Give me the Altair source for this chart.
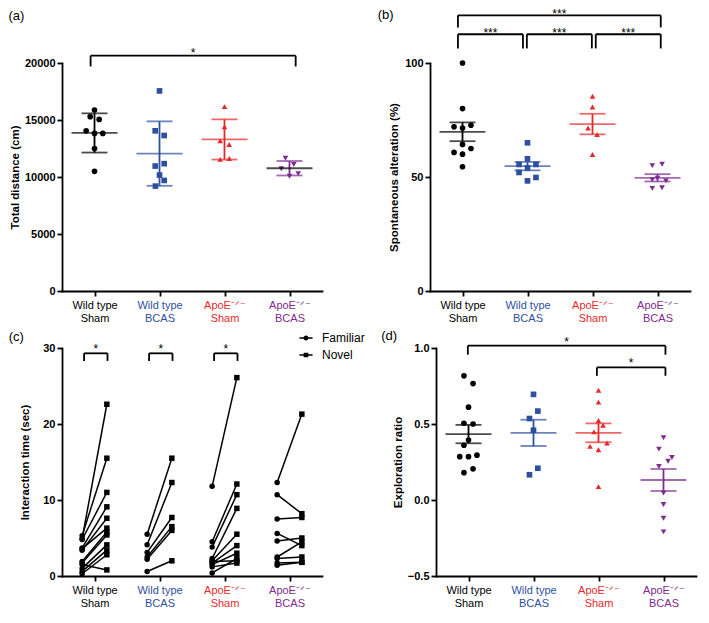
import json
import altair as alt
import pandas as pd

FONT = "Liberation Sans"

# ---------------- categories ----------------
cat_top = ["Wild type", "Wild type", "ApoE\u207b\u141f\u207b", "ApoE\u207b\u141f\u207b"]
cat_bottom = ["Sham", "BCAS", "Sham", "BCAS"]
cat_colors = ["#000000", "#2e4f9e", "#e62a2c", "#7d2b8e"]
cat_shapes = ["circle", "square", "triangle-up", "triangle-down"]

# ---------------- (a) total distance (cm) ----------------
dist_vals = [
    [15880, 15290, 15050, 14050, 13820, 13820, 12500, 10500],
    [17550, 14050, 13640, 11170, 10960, 10170, 9700, 9200],
    [16170, 14400, 13170, 12850, 11550, 11620],
    [11650, 11100, 10730, 10300, 10060],
]
dist_jit = [
    [0, -0.066, 0.072, -0.128, 0, 0.128, 0, 0],
    [0, -0.066, 0.072, 0.072, -0.066, 0, 0.072, -0.062],
    [0, 0, -0.066, 0.072, -0.066, 0.072],
    [-0.062, 0.066, -0.126, 0.134, 0],
]
dist_mean_colors = ["#000000", "#2e4f9e", "#e62a2c", "#000000"]
dist_brackets = [(0.94, 4.095, 20640, 19700, "*")]

# ---------------- (b) spontaneous alteration (%) ----------------
alt_vals = [
    [100, 80, 72.0, 71.5, 72.7, 64.3, 60.8, 60.0, 62.5, 54.5],
    [65.0, 58.0, 55.5, 55.5, 54.0, 52.0, 48.3, 49.8],
    [85.4, 80.7, 71.5, 68.6, 59.9],
    [55.0, 55.6, 48.8, 49.5, 48.3, 45.0, 45.3],
]
alt_jit = [
    [0, 0, -0.13, 0, 0.13, 0, -0.13, 0, 0.13, 0],
    [0, 0, -0.13, 0.13, 0, -0.13, 0, 0.13],
    [0, 0, -0.07, 0.07, 0],
    [-0.08, 0.07, -0.08, 0.0, 0.13, -0.08, 0.07],
]
alt_brackets = [
    (0.93, 4.05, 120.9, 115.6, "***"),
    (0.93, 1.93, 112.6, 106.4, "***"),
    (1.99, 2.99, 112.6, 106.4, "***"),
    (3.05, 4.05, 112.6, 106.4, "***"),
]

# ---------------- (c) interaction time (sec), paired familiar / novel ----------------
fam_vals = [
    [5.3, 4.9, 4.8, 3.7, 3.4, 3.6, 1.9, 1.7, 1.0, 0.6, 0.3, 1.5],
    [5.5, 4.1, 3.1, 2.5, 2.2, 0.6],
    [11.8, 4.5, 3.8, 2.3, 2.0, 1.7, 1.5, 0.4, 1.9, 1.2],
    [12.3, 10.7, 7.5, 5.6, 4.6, 2.5, 2.3, 1.7, 1.4],
]
nov_vals = [
    [15.5, 22.6, 11.0, 9.1, 7.6, 6.3, 5.8, 5.4, 4.1, 3.4, 2.8, 0.8],
    [15.5, 12.3, 7.7, 6.5, 6.0, 2.0],
    [26.1, 12.1, 10.7, 8.9, 5.5, 4.0, 3.0, 2.3, 2.0, 1.7],
    [21.3, 8.2, 7.7, 4.0, 5.0, 4.5, 2.5, 1.8, 1.8],
]
objects = ["Familiar", "Novel"]
obj_shift = [-0.19, 0.19]
time_brackets = [(0.84, 1.2, 29.3, 28.3, "*"), (1.84, 2.2, 29.3, 28.3, "*"), (2.84, 3.2, 29.3, 28.3, "*")]

# ---------------- (d) exploration ratio ----------------
ratio_vals = [
    [0.817, 0.766, 0.611, 0.505, 0.500, 0.395, 0.36, 0.285, 0.285, 0.295, 0.18, 0.205],
    [0.695, 0.585, 0.536, 0.459, 0.209, 0.166],
    [0.722, 0.644, 0.523, 0.448, 0.492, 0.353, 0.331, 0.375, 0.088],
    [0.41, 0.335, 0.28, 0.255, 0.22, 0.045, -0.03, -0.12, -0.21],
]
ratio_jit = [
    [-0.07, 0.07, 0, -0.07, 0.07, 0, -0.07, -0.135, 0, 0.13, -0.07, 0.07],
    [0, 0.067, -0.062, 0, 0.067, -0.062],
    [0, 0, 0, -0.07, 0.07, -0.13, 0, 0.13, 0],
    [0, -0.07, 0.13, 0.07, -0.07, 0, 0, 0, 0],
]
ratio_brackets = [(0.99, 4.03, 1.015, 0.956, "*"), (2.975, 4.03, 0.872, 0.817, "*")]

# ---------------- shared styling ----------------
W, H = 260, 228
LW = 1.8
labels_js = json.dumps([[t, b] for t, b in zip(cat_top, cat_bottom)], ensure_ascii=False)
label_color = {
    "condition": [{"test": f"datum.value == {i + 1}", "value": cat_colors[i]} for i in range(1, 4)],
    "value": cat_colors[0],
}
x_scale = alt.Scale(domain=[0.5, 4.5], nice=False, zero=False)
x_axis = alt.Axis(
    values=[1, 2, 3, 4], labelExpr=f"{labels_js}[datum.value - 1]", title=None,
    labelColor=label_color, labelFontSize=11, labelFontWeight="normal",
    labelLineHeight=13, labelPadding=3, labelAngle=0,
)


def y_axis(ticks, fmt, title, tpad):
    return alt.Axis(values=ticks, format=fmt, title=title, titlePadding=tpad,
                    labelFontSize=11, labelFontWeight="bold", labelPadding=2,
                    titleFontSize=11.5, titleFontWeight="bold")


def bracket_layers(brackets, xs, ys, stars_dy):
    rows, stars = [], []
    for x1, x2, y, ylo, s in brackets:
        rows.append({"x": x1, "x2": x2, "y": y, "y2": y})
        rows.append({"x": x1, "x2": x1, "y": ylo, "y2": y})
        rows.append({"x": x2, "x2": x2, "y": ylo, "y2": y})
        stars.append({"x": (x1 + x2) / 2, "y": y, "s": s})
    br = alt.Chart(pd.DataFrame(rows)).mark_rule(color="black", strokeWidth=LW).encode(
        x=alt.X("x:Q", scale=xs, axis=x_axis), x2="x2:Q",
        y=alt.Y("y:Q", scale=ys), y2="y2:Q")
    st = alt.Chart(pd.DataFrame(stars)).mark_text(
        baseline="alphabetic", fontSize=12, font=FONT, color="black", dy=stars_dy).encode(
        x=alt.X("x:Q", scale=xs, axis=x_axis), y=alt.Y("y:Q", scale=ys), text="s:N")
    return [br, st]


def panel_title(text, dx, off):
    return alt.TitleParams(text, anchor="start", frame="bounds", fontSize=13,
                           fontWeight="normal", font=FONT, color="black", dx=dx, offset=off)


def scatter_panel(vals, jit, mean_colors, ydom, ticks, fmt, ytitle, tpad, agg_op,
                  brackets, stars_dy, title, tdx, toff):
    rows = []
    for gi, (vs, js) in enumerate(zip(vals, jit)):
        for v, j in zip(vs, js):
            rows.append({"g": gi + 1, "x": gi + 1 + j, "v": v, "col": cat_colors[gi],
                         "mcol": mean_colors[gi], "shp": cat_shapes[gi]})
    df = pd.DataFrame(rows)
    ys = alt.Scale(domain=ydom, nice=False, zero=False)
    ya = y_axis(ticks, fmt, ytitle, tpad)
    X = lambda f: alt.X(f, scale=x_scale, axis=x_axis)
    Y = lambda f: alt.Y(f, scale=ys, axis=ya)

    pts = alt.Chart(df).mark_point(filled=True, opacity=1, size=32).encode(
        x=X("x:Q"), y=Y("v:Q"),
        color=alt.Color("col:N", scale=None),
        shape=alt.Shape("shp:N", scale=None))
    agg = alt.Chart(df).transform_aggregate(
        m="mean(v)", s=f"{agg_op}(v)", groupby=["g", "col", "mcol"]
    ).transform_calculate(lo="datum.m - datum.s", hi="datum.m + datum.s")
    vr = agg.mark_rule(strokeWidth=LW).encode(
        x=X("g:Q"), y=Y("lo:Q"), y2="hi:Q", color=alt.Color("col:N", scale=None))
    mean = agg.mark_tick(orient="horizontal", size=46, thickness=LW).encode(
        x=X("g:Q"), y=Y("m:Q"), color=alt.Color("mcol:N", scale=None))
    lo = agg.mark_tick(orient="horizontal", size=26, thickness=LW).encode(
        x=X("g:Q"), y=Y("lo:Q"), color=alt.Color("col:N", scale=None))
    hi = agg.mark_tick(orient="horizontal", size=26, thickness=LW).encode(
        x=X("g:Q"), y=Y("hi:Q"), color=alt.Color("col:N", scale=None))
    layers = [pts, vr, mean, lo, hi] + bracket_layers(brackets, x_scale, ys, stars_dy)
    return alt.layer(*layers).properties(width=W, height=H, title=panel_title(title, tdx, toff))


panel_a = scatter_panel(dist_vals, dist_jit, dist_mean_colors, [0, 20000],
                        [0, 5000, 10000, 15000, 20000], "d", "Total distance (cm)", 4,
                        "stdev", dist_brackets, 1.5, "(a)", -1, 24)
panel_b = scatter_panel(alt_vals, alt_jit, cat_colors, [0, 100], [0, 50, 100], "d",
                        "Spontaneous alteration (%)", 5, "stderr", alt_brackets, 3,
                        "(b)", -11, -14)
panel_d = scatter_panel(ratio_vals, ratio_jit, cat_colors, [-0.5, 1.0],
                        [-0.5, 0.0, 0.5, 1.0], ".1f", "Exploration ratio", 4, "stderr",
                        ratio_brackets, 0, "(d)", -11, -7)

# ---------------- (c) paired lines ----------------
crow = []
for gi in range(4):
    for k, (f, n) in enumerate(zip(fam_vals[gi], nov_vals[gi])):
        for oi, v in enumerate((f, n)):
            crow.append({"mid": f"{gi}-{k}", "x": gi + 1 + obj_shift[oi], "v": v,
                         "obj": objects[oi]})
cdf = pd.DataFrame(crow)
c_ys = alt.Scale(domain=[0, 30], nice=False, zero=False)
c_ya = y_axis([0, 10, 20, 30], "d", "Interaction time (sec)", 12)
CX = alt.X("x:Q", scale=x_scale, axis=x_axis)
CY = alt.Y("v:Q", scale=c_ys, axis=c_ya)

c_lines = alt.Chart(cdf).mark_line(color="black", strokeWidth=1.5).encode(
    x=CX, y=CY, detail="mid:N", order="x:Q")
c_pts = alt.Chart(cdf).mark_point(filled=True, opacity=1, size=30, color="black").encode(
    x=CX, y=CY,
    shape=alt.Shape("obj:N", scale=alt.Scale(domain=objects, range=["circle", "square"]),
                    legend=None))
# legend symbols: a short line with the marker on it (filled shapes only)
leg_paths = [
    "M-1.7,-0.2H1.7V0.2H-1.7Z M0.65,0A0.65,0.65,0,1,1,-0.65,0A0.65,0.65,0,1,1,0.65,0Z",
    "M-1.7,-0.2H1.7V0.2H-1.7Z M-0.6,-0.6H0.6V0.6H-0.6Z",
]
c_leg = alt.Chart(cdf).transform_filter("false").mark_point(
    filled=True, opacity=1, color="black").encode(
    x=CX, y=CY,
    shape=alt.Shape("obj:N", scale=alt.Scale(domain=objects, range=leg_paths),
                    legend=alt.Legend(title=None, orient="none", legendX=238, legendY=-16,
                                      symbolSize=60, symbolStrokeWidth=0,
                                      symbolFillColor="black",
                                      labelFontSize=12, labelFont=FONT, labelColor="black",
                                      labelOffset=10, rowPadding=5, padding=0)))
panel_c = alt.layer(c_lines, c_pts, c_leg, *bracket_layers(time_brackets, x_scale, c_ys, 0)
                    ).resolve_scale(shape="independent").properties(
    width=W, height=H, title=panel_title("(c)", -11, -12))

row1 = alt.hconcat(panel_a, panel_b, spacing=55)
row2 = alt.hconcat(panel_c, panel_d, spacing=16)
chart = alt.vconcat(row1, row2, spacing=6).properties(
    padding={"left": 0, "top": 0, "right": 4, "bottom": 4}
).configure_view(stroke=None).configure_axis(
    labelFont=FONT, titleFont=FONT, domainColor="black", tickColor="black",
    titleColor="black", grid=False, domainWidth=LW, tickWidth=LW, tickSize=5,
    domainCap="square",
)

chart.save("out.html", embed_options={"renderer": "svg", "actions": False})
